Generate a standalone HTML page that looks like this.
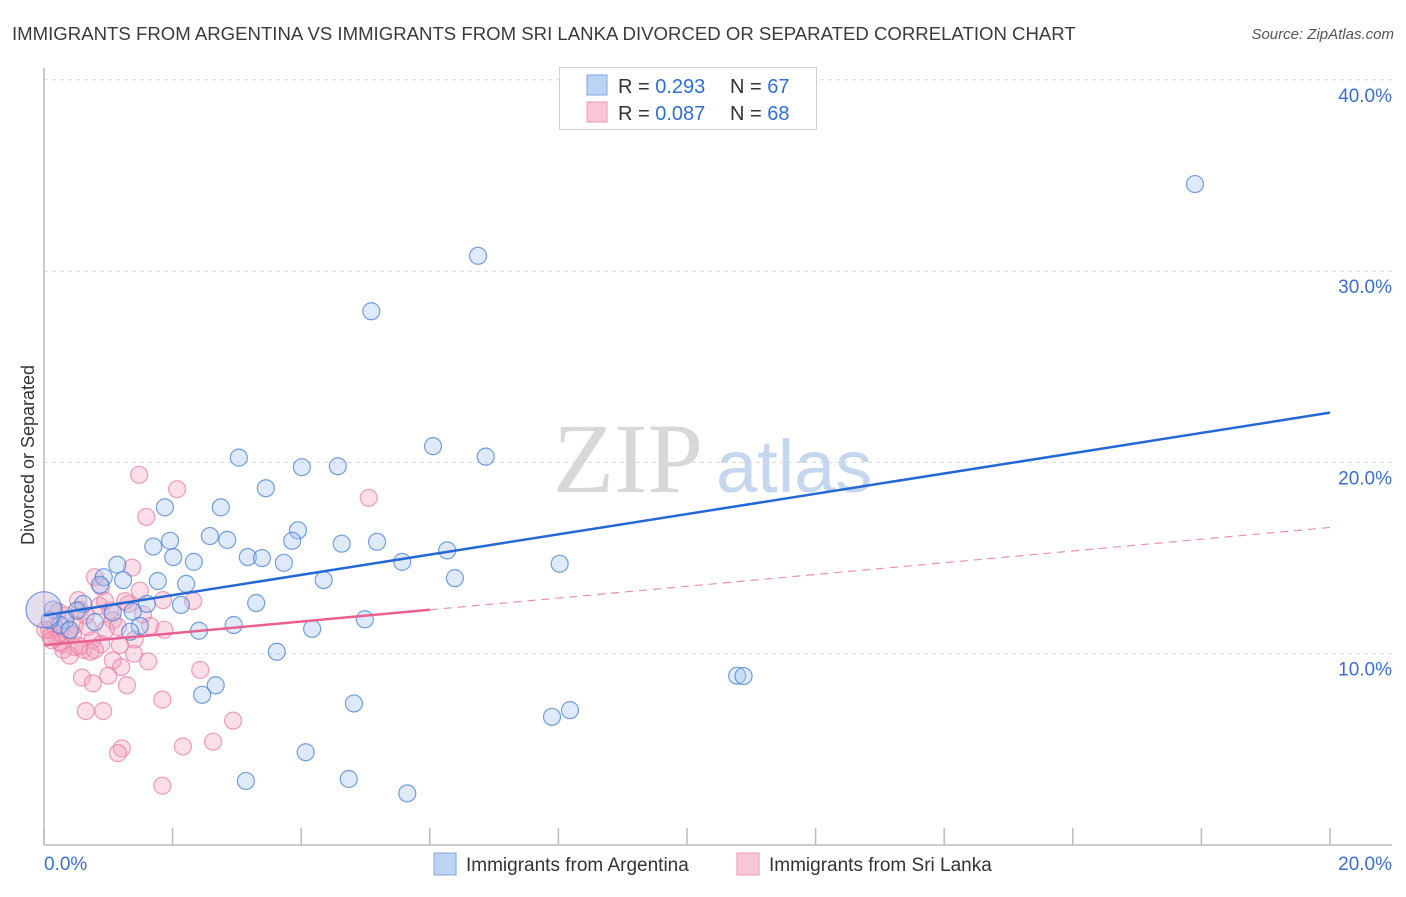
<!DOCTYPE html>
<html><head><meta charset="utf-8"><style>
body{margin:0;background:#fff;font-family:"Liberation Sans",sans-serif;}
svg text{font-family:"Liberation Sans",sans-serif;}
</style></head><body>
<svg id="chart" width="1406" height="892" viewBox="0 0 1406 892" xmlns="http://www.w3.org/2000/svg">
<text x="12" y="40" font-size="18.6" fill="#3a3a3a">IMMIGRANTS FROM ARGENTINA VS IMMIGRANTS FROM SRI LANKA DIVORCED OR SEPARATED CORRELATION CHART</text>
<text x="1394" y="39" font-size="15" fill="#555" font-style="italic" text-anchor="end">Source: ZipAtlas.com</text>
<g>
<text x="553" y="492" font-size="100" fill="#d8d8d8" style="font-family:'Liberation Serif',serif">ZIP</text>
<text x="716" y="492" font-size="74" fill="#c5d7ee">atlas</text>
</g>
<g id="grid"></g>
<g id="axes"></g>
<g id="pink"></g>
<g id="blue"></g>
<g id="trend"></g>
<text transform="translate(34,455) rotate(-90)" font-size="18" fill="#333" text-anchor="middle">Divorced or Separated</text>
<g>
<rect x="559.5" y="67.5" width="257" height="62" fill="#fff" stroke="#d0d0d0"/>
<rect x="587" y="75" width="20" height="20" fill="#bcd4f4" stroke="#7ea7e3"/>
<rect x="587" y="102" width="20" height="20" fill="#f8c6d6" stroke="#ec95b2"/>
<text x="618" y="93" font-size="20" fill="#333">R = <tspan fill="#2f6fd6">0.293</tspan></text>
<text x="730" y="93" font-size="20" fill="#333">N = <tspan fill="#2f6fd6">67</tspan></text>
<text x="618" y="120" font-size="20" fill="#333">R = <tspan fill="#2f6fd6">0.087</tspan></text>
<text x="730" y="120" font-size="20" fill="#333">N = <tspan fill="#2f6fd6">68</tspan></text>
</g>
<g>
<rect x="434" y="853" width="22" height="22" fill="#bcd4f4" stroke="#7ea7e3"/>
<text x="466" y="871" font-size="19" fill="#333">Immigrants from Argentina</text>
<rect x="737" y="853" width="22" height="22" fill="#f8c6d6" stroke="#ec95b2"/>
<text x="769" y="871" font-size="19" fill="#333">Immigrants from Sri Lanka</text>
</g>
</svg>
<script>
const xTicks=[0,2,4,6,8,10,12,14,16,18,20];
const yTicks=[10,20,30,40];
const yTickLabels=["10.0%","20.0%","30.0%","40.0%"];
const blueX=[17.9,6.75,5.09,6.05,6.87,3.03,4.01,4.57,3.45,1.88,2.75,2.58,3.95,1.96,2.85,3.86,4.63,5.18,1.70,2.01,3.17,3.39,2.33,3.73,5.57,6.27,8.02,1.14,0.93,1.23,1.77,2.21,4.35,6.39,0.61,1.60,3.30,2.13,0.51,1.38,1.07,0.14,0.33,0.79,1.49,1.34,4.99,2.95,4.17,2.41,3.62,10.78,10.88,2.67,2.46,4.82,7.90,8.18,4.07,3.14,4.74,5.65,0.25,0.40,0.87,0.09,0.0];
const blueY=[34.55,30.8,27.9,20.85,20.3,20.25,19.75,19.8,18.65,17.65,17.65,16.15,16.45,15.9,15.95,15.9,15.75,15.85,15.6,15.05,15.05,15.0,14.8,14.75,14.8,15.4,14.7,14.65,14.0,13.85,13.8,13.65,13.85,13.95,12.6,12.6,12.65,12.55,12.25,12.2,12.15,12.3,11.75,11.65,11.45,11.15,11.8,11.5,11.3,11.2,10.1,8.85,8.83,8.35,7.85,7.4,6.7,7.05,4.85,3.35,3.45,2.7,11.5,11.25,13.6,11.75,12.3];
const pinkX=[1.48,2.07,5.05,1.59,0.79,1.37,0.89,2.32,1.31,0.86,0.56,0.22,0.08,0.65,1.07,1.54,1.85,0.48,0.96,1.87,1.15,0.39,0.19,0.75,0.47,0.28,0.89,0.61,1.07,0.30,1.40,1.62,1.20,0.59,0.76,2.43,1.00,1.29,1.84,0.65,0.92,2.94,1.21,1.15,2.16,2.63,1.84,0.1,0.25,0.25,1.03,1.26,1.65,0.4,0.72,0.17,1.41,0.53,0.02,0.34,1.18,0.68,1.49,0.95,0.79,0.12,0.45,0.55];
const pinkY=[19.35,18.6,18.15,17.15,14.0,14.5,13.5,12.75,12.6,12.5,12.3,12.2,11.25,12.0,11.75,12.05,12.8,11.5,11.25,11.25,11.4,11.15,10.85,10.7,10.35,10.5,10.5,10.2,9.65,10.2,10.0,9.6,9.3,8.75,8.45,9.15,8.85,8.35,7.6,7.0,7.0,6.5,5.05,4.8,5.15,5.4,3.1,10.9,10.6,11.1,12.25,12.75,11.45,9.9,10.1,11.4,10.75,12.8,11.25,12.0,10.45,11.4,13.3,12.75,10.2,10.7,11.0,10.4];
const blueTrend=[12.0,22.6];
const pinkTrend=[10.45,16.6];
const pinkSolidEnd=6.0;
const NS="http://www.w3.org/2000/svg";
const X0=44,X1=1330,Y0=845,PXPER=19.13;
const sx=v=>X0+(X1-X0)*v/20;
const sy=v=>Y0-v*PXPER;
function mk(tag,attrs,parent){const e=document.createElementNS(NS,tag);for(const k in attrs)e.setAttribute(k,attrs[k]);parent.appendChild(e);return e;}
const grid=document.getElementById('grid'),axes=document.getElementById('axes');
yTicks.forEach((t,i)=>{
 const l=mk('line',{x1:X0,x2:1392,y1:sy(t),y2:sy(t),stroke:'#d8d8d8','stroke-dasharray':'4,4'},grid);
 
 
 const tx=mk('text',{x:1392,y:sy(t)+22,'font-size':19,fill:'#3a6fd0','text-anchor':'end'},axes);
 tx.textContent=yTickLabels[i];
 
 
});
mk('line',{x1:X0,x2:1392,y1:Y0,y2:Y0,stroke:'#bbb','stroke-width':1.5},axes);
mk('line',{x1:X0,x2:X0,y1:68,y2:Y0,stroke:'#bbb','stroke-width':1.5},axes);
xTicks.forEach(t=>{
 const l=mk('line',{x1:sx(t),x2:sx(t),y1:828,y2:Y0,stroke:'#bbb','stroke-width':1.5},axes);
 
 
});
const xl0=mk('text',{x:44,y:870,'font-size':19,fill:'#3a6fd0'},axes);xl0.textContent=xTicks[0].toFixed(1)+'%';


const xl1=mk('text',{x:1392,y:870,'font-size':19,fill:'#3a6fd0','text-anchor':'end'},axes);xl1.textContent=xTicks[xTicks.length-1].toFixed(1)+'%';


const pg=document.getElementById('pink'),bg=document.getElementById('blue');
pinkX.forEach((v,i)=>{
 const c=mk('circle',{cx:sx(v),cy:sy(pinkY[i]),r:8.5,fill:'rgba(244,160,188,0.35)',stroke:'rgba(232,120,160,0.7)','stroke-width':1.2},pg);
 
 
});
blueX.forEach((v,i)=>{
 const c=mk('circle',{cx:sx(v),cy:sy(blueY[i]),r:(i===blueX.length-1?18:8.5),fill:(i===blueX.length-1?'rgba(200,180,220,0.45)':'rgba(160,196,240,0.35)'),stroke:'rgba(60,120,210,0.7)','stroke-width':1.2},bg);
 
 
});
const tg=document.getElementById('trend');
const py=x=>pinkTrend[0]+(pinkTrend[1]-pinkTrend[0])*x/20;
const bl=mk('line',{x1:sx(0),y1:sy(blueTrend[0]),x2:sx(20),y2:sy(blueTrend[1]),stroke:'#2468d4','stroke-width':2.5},tg);


const ps=mk('line',{x1:sx(0),y1:sy(py(0)),x2:sx(pinkSolidEnd),y2:sy(py(pinkSolidEnd)),stroke:'#e8608f','stroke-width':2.5},tg);


const pd=mk('line',{x1:sx(pinkSolidEnd),y1:sy(py(pinkSolidEnd)),x2:sx(20),y2:sy(py(20)),stroke:'#e890ae','stroke-width':1.2,'stroke-dasharray':'8,6'},tg);


</script>
</body></html>
